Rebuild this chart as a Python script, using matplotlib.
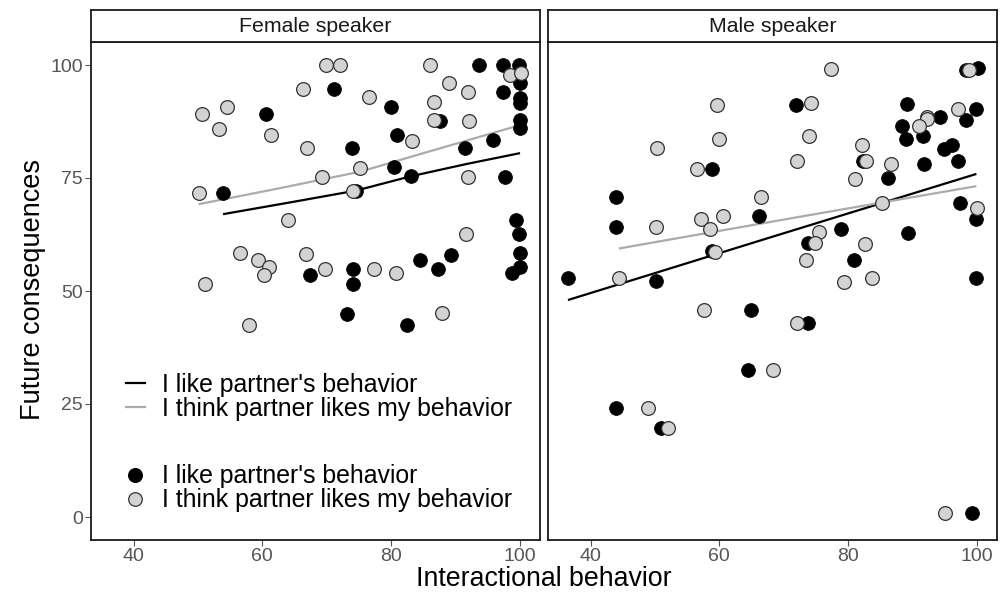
import matplotlib
matplotlib.use("Agg")
import matplotlib.pyplot as plt
from matplotlib.lines import Line2D
import numpy as np

plt.rcParams['font.family'] = ['Liberation Sans', 'DejaVu Sans']

panels = ["Female speaker", "Male speaker"]
series_labels = ["I like partner's behavior", "I think partner likes my behavior"]

# ---- Female speaker: "I like partner's behavior" (black)
f_like_x = [93.6, 97.3, 99.8, 100.0, 97.4, 100.0, 100.0, 100.0, 100.0, 95.8,
            71.1, 80.0, 60.5, 87.5, 80.9, 73.9, 91.4, 80.4, 83.1, 97.6,
            74.5, 53.9, 99.4, 99.9, 100.0, 100.0, 98.7, 84.4, 89.3, 87.2,
            67.4, 74.0, 74.0, 73.2, 82.4]
f_like_y = [100.0, 100.0, 100.0, 96.0, 94.1, 92.6, 91.5, 87.8, 86.0, 83.3,
            94.6, 90.6, 89.2, 87.7, 84.6, 81.7, 81.7, 77.4, 75.4, 75.3,
            72.2, 71.7, 65.7, 62.5, 58.5, 55.4, 54.0, 56.9, 58.0, 54.8,
            53.6, 54.9, 51.6, 45.0, 42.5]
# ---- Female speaker: "I think partner likes my behavior" (grey)
f_think_x = [69.9, 72.1, 86.0, 98.5, 100.1, 88.9, 66.3, 91.9, 76.6, 86.7,
             54.5, 50.7, 53.3, 61.3, 86.6, 92.1, 83.2, 67.0, 75.2, 69.3,
             92.0, 74.0, 50.1, 64.0, 91.6, 56.5, 59.3, 61.1, 60.3, 66.8,
             69.7, 77.3, 80.8, 51.1, 87.9, 57.9]
f_think_y = [100.0, 100.0, 100.0, 97.8, 98.3, 96.0, 94.6, 94.1, 93.0, 91.8,
             90.6, 89.2, 85.9, 84.5, 87.8, 87.5, 83.2, 81.6, 77.3, 75.3,
             75.3, 72.2, 71.7, 65.7, 62.5, 58.3, 56.9, 55.2, 53.5, 58.1,
             54.9, 54.8, 53.9, 51.6, 45.1, 42.5]

# ---- Male speaker: "I like partner's behavior" (black)
m_like_x = [100.1, 98.3, 71.9, 89.1, 99.9, 94.3, 98.3, 88.4, 89.0, 91.6,
            94.8, 96.1, 82.3, 91.8, 97.1, 58.8, 86.2, 97.3, 99.9, 44.0,
            44.0, 66.1, 78.9, 89.3, 73.8, 58.8, 80.9, 36.5, 50.1, 99.9,
            64.9, 73.8, 64.5, 44.0, 51.0, 99.2]
m_like_y = [99.3, 98.9, 91.1, 91.4, 90.3, 88.5, 87.8, 86.4, 83.6, 84.3,
            81.5, 82.3, 78.8, 78.2, 78.8, 77.1, 74.9, 69.4, 66.0, 70.9,
            64.2, 66.7, 63.8, 62.9, 60.6, 58.8, 56.8, 52.9, 52.2, 52.8,
            45.8, 42.9, 32.5, 24.1, 19.8, 0.8]
# ---- Male speaker: "I think partner likes my behavior" (grey)
m_think_x = [77.3, 98.8, 59.6, 74.3, 97.0, 92.2, 92.2, 91.0, 59.9, 73.9,
             82.2, 50.3, 72.1, 82.8, 86.7, 56.5, 81.0, 66.5, 85.2, 100.0,
             50.1, 57.1, 60.5, 58.5, 75.4, 74.8, 82.6, 59.3, 73.4, 44.4,
             79.3, 83.7, 57.6, 72.0, 68.3, 49.0, 52.0, 95.0]
m_think_y = [99.2, 98.9, 91.1, 91.6, 90.3, 88.6, 88.0, 86.4, 83.6, 84.4,
             82.2, 81.7, 78.8, 78.8, 78.2, 77.1, 74.8, 70.9, 69.4, 68.4,
             64.2, 66.0, 66.7, 63.8, 63.0, 60.6, 60.5, 58.6, 56.8, 52.9,
             52.1, 52.8, 45.9, 42.9, 32.5, 24.1, 19.8, 0.8]

# ---- Smoothed trend lines
f_like_fit_x = [53.9, 64.3, 74.5, 83.1, 91.7, 100.0]
f_like_fit_y = [67.0, 69.6, 72.2, 75.4, 78.1, 80.5]
f_think_fit_x = [50.1, 62.2, 75.2, 85.0, 100.0]
f_think_fit_y = [69.2, 72.6, 76.4, 80.5, 86.7]
m_like_fit_x = [36.5, 68.0, 99.9]
m_like_fit_y = [48.0, 61.9, 75.9]
m_think_fit_x = [44.4, 72.0, 99.9]
m_think_fit_y = [59.4, 66.3, 73.2]

x_ticks = [40, 60, 80, 100]
y_ticks = [0, 25, 50, 75, 100]

W, H = 1005, 592
fig = plt.figure(figsize=(W / 100, H / 100), dpi=100)

def fx(px):
    return px / W

def fy(py):
    return 1 - py / H

panel_top, panel_bot = 42.4, 539.6
strip_top = 10.0
lefts = [91, 548]
pw = 449

data = [
    (f_like_x, f_like_y, f_think_x, f_think_y, f_like_fit_x, f_like_fit_y, f_think_fit_x, f_think_fit_y),
    (m_like_x, m_like_y, m_think_x, m_think_y, m_like_fit_x, m_like_fit_y, m_think_fit_x, m_think_fit_y),
]

BLACK = "#000000"
GREY_FILL = "#D3D3D3"
GREY_EDGE = "#333333"
GREY_LINE = "#ABABAB"
TICK_COL = "#555555"

axes = []
for i, (lx, ly, tx, ty, lfx, lfy, tfx, tfy) in enumerate(data):
    ax = fig.add_axes([fx(lefts[i]), fy(panel_bot), pw / W, (panel_bot - panel_top) / H])
    axes.append(ax)
    ax.plot(lfx, lfy, color=BLACK, lw=1.6, zorder=2, solid_capstyle='butt')
    ax.plot(tfx, tfy, color=GREY_LINE, lw=1.6, zorder=2, solid_capstyle='butt')
    ax.scatter(lx, ly, s=98, c=BLACK, edgecolors=BLACK, linewidths=0.6, zorder=3)
    ax.scatter(tx, ty, s=98, c=GREY_FILL, edgecolors=GREY_EDGE, linewidths=0.9, zorder=4)
    ax.set_xlim(33.4, 103.1)
    ax.set_ylim(-5, 105)
    ax.set_xticks(x_ticks)
    ax.set_yticks(y_ticks)
    ax.tick_params(axis='both', length=4, width=0.8, color=TICK_COL, labelcolor=TICK_COL,
                   labelsize=14, pad=2)
    for sp in ax.spines.values():
        sp.set_linewidth(1.3)
        sp.set_color("#1A1A1A")
    if i == 1:
        ax.tick_params(axis='y', left=False, labelleft=False)
    # strip
    sax = fig.add_axes([fx(lefts[i]), fy(panel_top), pw / W, (panel_top - strip_top) / H])
    sax.set_xticks([])
    sax.set_yticks([])
    for sp in sax.spines.values():
        sp.set_linewidth(1.3)
        sp.set_color("#1A1A1A")
    sax.text(0.5, 0.5, panels[i], ha='center', va='center', fontsize=15.3, color="#1A1A1A",
             transform=sax.transAxes)

fig.text(fx(544), fy(586), "Interactional behavior", ha='center', va='baseline', fontsize=19.3,
         color="#000000")
fig.text(fx(33), fy(290), "Future consequences", ha='center', va='center', fontsize=19.5,
         rotation=90, color="#000000")

ax = axes[0]
line_handles = [Line2D([], [], color=BLACK, lw=1.6),
                Line2D([], [], color=GREY_LINE, lw=1.6)]
point_handles = [Line2D([], [], ls='none', marker='o', markersize=9.8, markerfacecolor=BLACK,
                        markeredgecolor=BLACK),
                 Line2D([], [], ls='none', marker='o', markersize=9.8, markerfacecolor=GREY_FILL,
                        markeredgecolor=GREY_EDGE, markeredgewidth=0.9)]

def ax_frac_y(py):
    return (panel_bot - py) / (panel_bot - panel_top)

def ax_frac_x(px):
    return (px - lefts[0]) / pw

LEG_FS = 17.9
leg1 = ax.legend(line_handles, series_labels, loc='center left',
                 bbox_to_anchor=(ax_frac_x(126), ax_frac_y(397)), frameon=False,
                 fontsize=LEG_FS, handlelength=0.76, handletextpad=0.68, labelspacing=0.0,
                 borderpad=0, borderaxespad=0)
ax.add_artist(leg1)
leg2 = ax.legend(point_handles, series_labels, loc='center left',
                 bbox_to_anchor=(ax_frac_x(126), ax_frac_y(488.5)), frameon=False,
                 fontsize=LEG_FS, handlelength=0.76, handletextpad=0.68, labelspacing=0.0,
                 borderpad=0, borderaxespad=0)

fig.savefig("out.png", dpi=100)
